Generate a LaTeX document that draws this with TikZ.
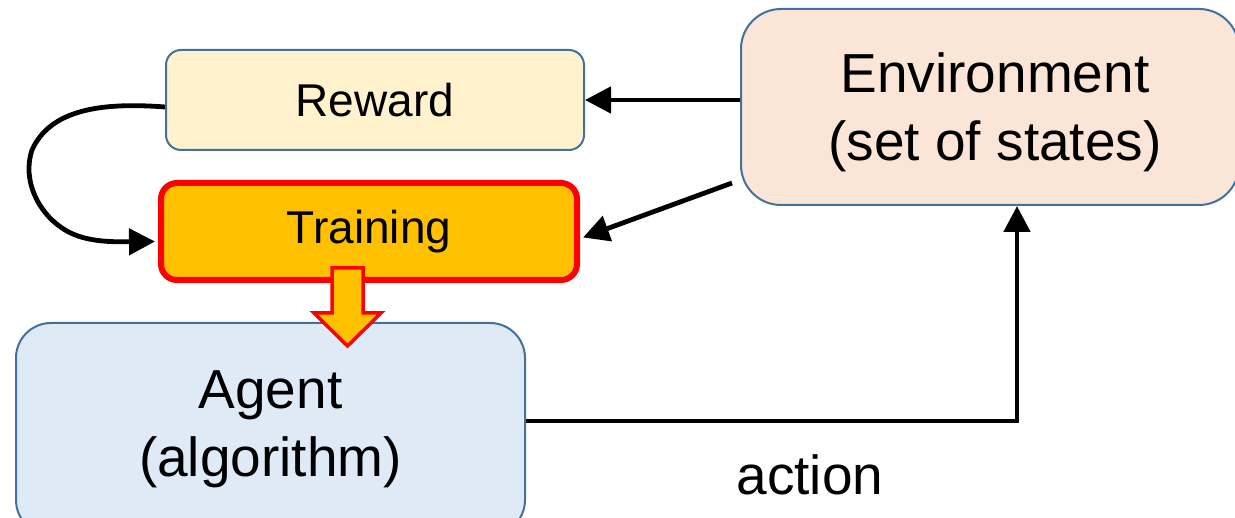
\documentclass[tikz,border=0pt]{standalone}
\usepackage{fontspec}
\setmainfont{Liberation Sans}
\usetikzlibrary{arrows.meta,calc}
\definecolor{bordblue}{HTML}{41719C}
\definecolor{rewfill}{HTML}{FFF2CC}
\definecolor{trainfill}{HTML}{FFC000}
\definecolor{envfill}{HTML}{FBE5D6}
\definecolor{agentfill}{HTML}{DEEBF7}
\tikzset{
  box/.style={draw=bordblue, line width=2pt, rectangle, inner sep=0pt},
  bigtxt/.style={font=\fontsize{55}{68}\selectfont, align=center, inner sep=0pt},
  smalltxt/.style={font=\fontsize{46}{54}\selectfont},
  conn/.style={line width=4.8pt, -{Triangle[length=26pt,width=26pt]}},
}
\begin{document}
\begin{tikzpicture}[x=1pt,y=-1pt]
\useasboundingbox (0,0) rectangle (1235,518);
\clip (0,0) rectangle (1235,518);
% boxes
\node[box, fill=rewfill, rounded corners=15pt, minimum width=418pt, minimum height=100pt, smalltxt] (reward) at (375,100) {Reward};
\node[box, draw=red, line width=6pt, fill=trainfill, rounded corners=16pt, minimum width=416pt, minimum height=97pt, smalltxt] (training) at (369,231.5) {Training};
\node[box, fill=envfill, rounded corners=40pt, minimum width=498pt, minimum height=196pt] (env) at (990,107) {};
\node[bigtxt] (envtxt) at (995,112) {Environment\\(set of states)};
\node[box, fill=agentfill, rounded corners=35pt, minimum width=509pt, minimum height=212pt, bigtxt] (agent) at (270.5,429) {Agent\\(algorithm)};
% connectors
\draw[conn] (reward.east -| env.west) -- (reward.east);
\coordinate (e2) at (732,183);
\draw[conn] (e2) -- ([xshift=3pt,yshift=-6pt]training.east);
\draw[conn] ([yshift=-7pt]reward.west) .. controls (100,102) and (50,110) .. (32,150)
  .. controls (22,180) and (38,212) .. (62,228)
  .. controls (82,242) and (110,242) .. ([xshift=-3pt,yshift=-10pt]training.west);
\draw[conn] ([yshift=8pt]agent.east) -| ([xshift=27pt]env.south);
\node[bigtxt] (action) at (810,475) {action};
% block arrow
\draw[draw=red, line width=3.5pt, fill=trainfill, line join=miter]
  (332,268) -- (363,268) -- (363,313) -- (381,313) -- (347.5,346) -- (314,313) -- (332,313) -- cycle;
\end{tikzpicture}
\end{document}
